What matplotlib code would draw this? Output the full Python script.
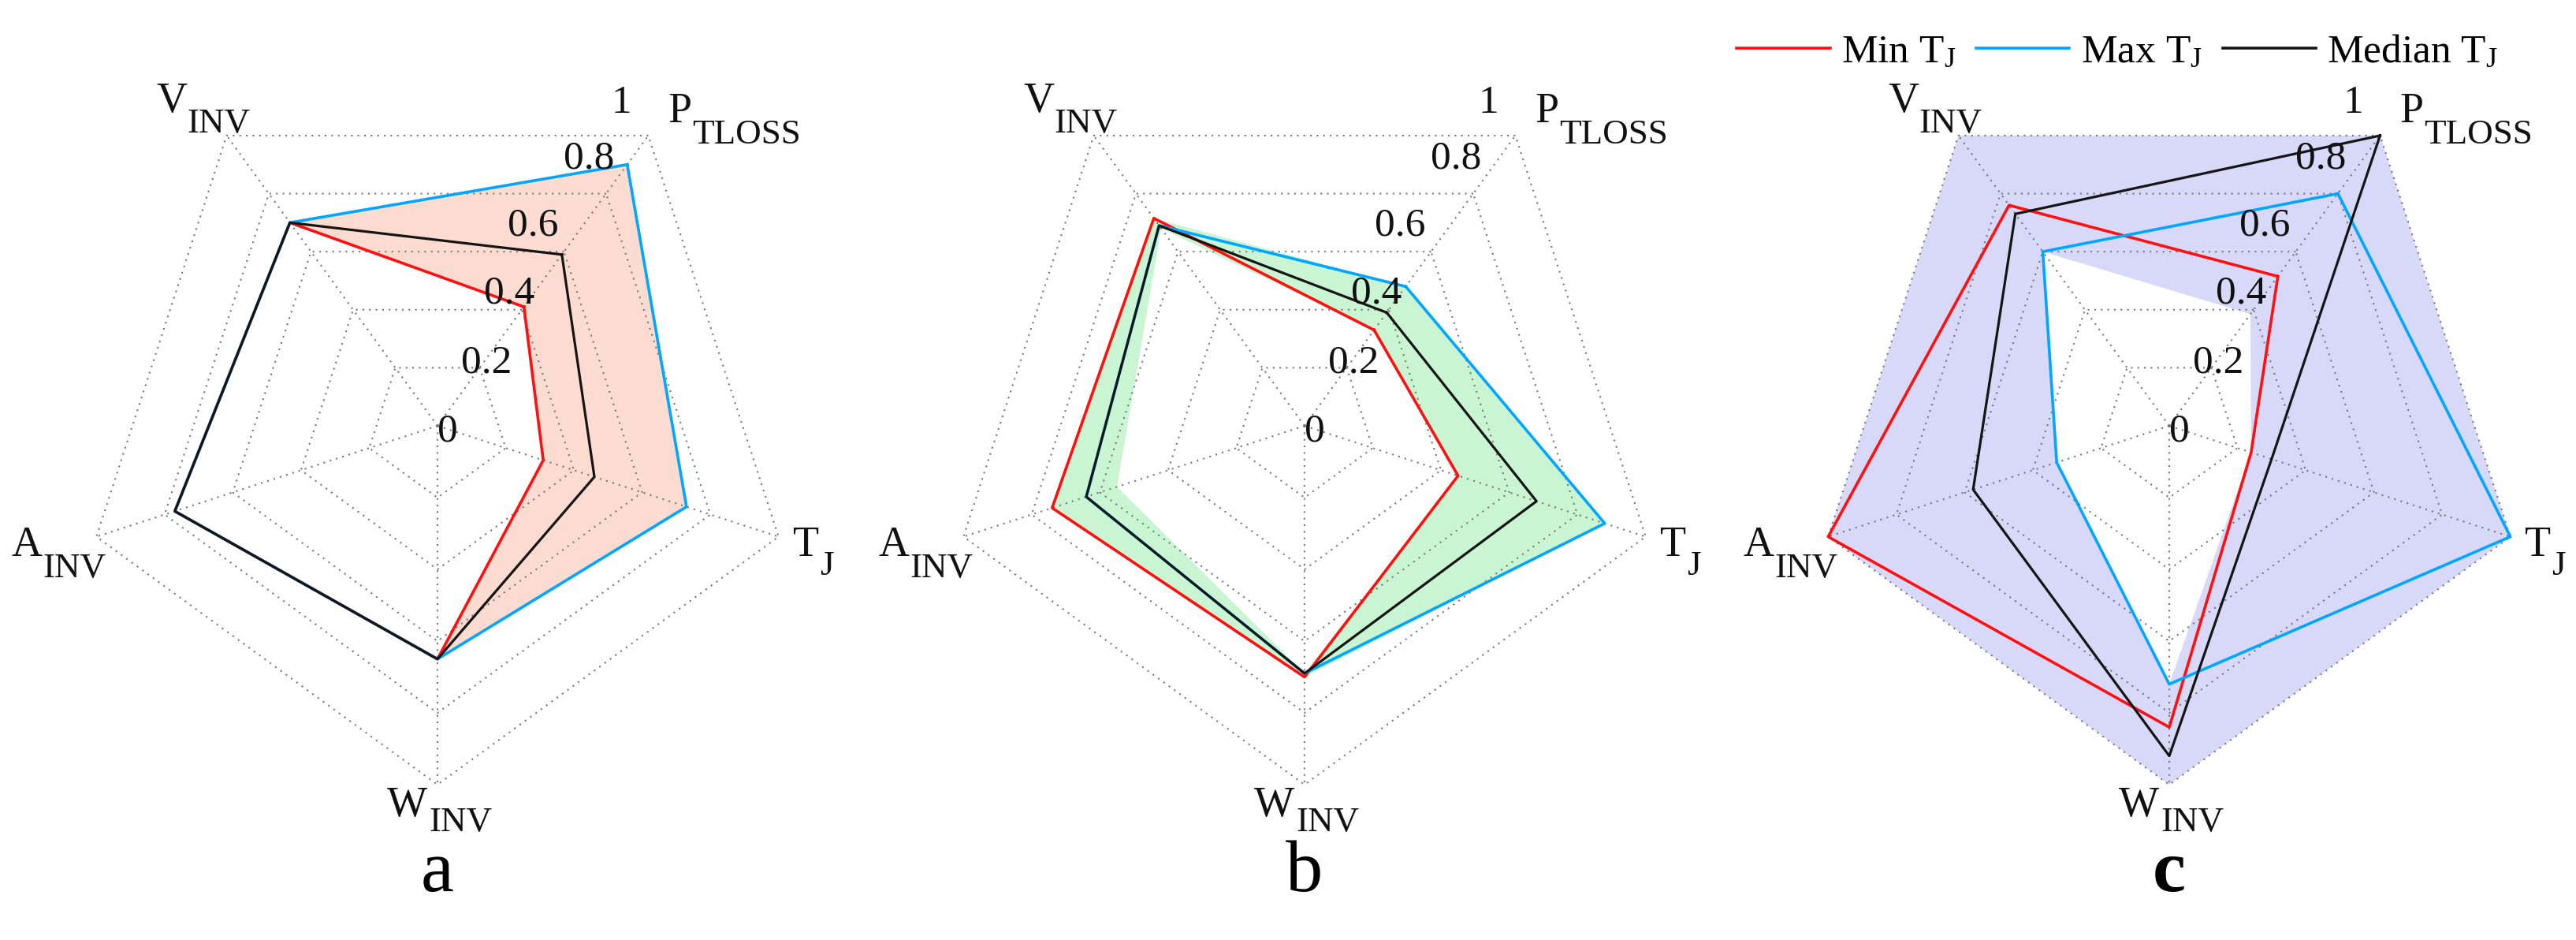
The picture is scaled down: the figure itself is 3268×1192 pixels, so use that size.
import numpy as np
import matplotlib
matplotlib.use("Agg")
import matplotlib.pyplot as plt
from matplotlib.path import Path
from matplotlib.patches import PathPatch
from matplotlib.lines import Line2D

plt.rcParams['font.family'] = ['Liberation Serif', 'DejaVu Serif']
plt.rcParams['mathtext.fontset'] = 'custom'
plt.rcParams['mathtext.rm'] = 'Liberation Serif'
plt.rcParams['mathtext.it'] = 'Liberation Serif:italic'

# ---------------- data ----------------
axis_main = ['P', 'V', 'A', 'W', 'T']
axis_sub = ['TLOSS', 'INV', 'INV', 'INV', 'J']
axis_angles_deg = [54, 126, 198, 270, 342]
ring_values = [0.2, 0.4, 0.6, 0.8, 1.0]
tick_values = [0, 0.2, 0.4, 0.6, 0.8, 1.0]
tick_labels = ['0', '0.2', '0.4', '0.6', '0.8', '1']

# order of values: P_TLOSS, V_INV, A_INV, W_INV, T_J
min_a = [0.41, 0.70, 0.77, 0.65, 0.31]
max_a = [0.90, 0.70, 0.77, 0.65, 0.73]
med_a = [0.59, 0.70, 0.77, 0.65, 0.46]
band_outer_a = [0.90, 0.70, 0.77, 0.65, 0.73]
band_inner_a = [0.41, 0.70, 0.77, 0.65, 0.31]

min_b = [0.33, 0.715, 0.74, 0.70, 0.45]
max_b = [0.48, 0.69, 0.64, 0.69, 0.88]
med_b = [0.39, 0.69, 0.64, 0.69, 0.68]
band_outer_b = [0.48, 0.715, 0.74, 0.70, 0.88]
band_inner_b = [0.33, 0.68, 0.55, 0.69, 0.45]

min_c = [0.515, 0.76, 1.00, 0.84, 0.24]
max_c = [0.80, 0.60, 0.33, 0.72, 1.00]
med_c = [1.00, 0.73, 0.575, 0.92, 0.30]
band_outer_c = [1.0, 1.0, 1.0, 1.0, 1.0]
band_inner_c = [0.385, 0.60, 0.33, 0.72, 0.24]

panel_letters = ['a', 'b', 'c']
legend_labels = [r'Min $\mathrm{T_J}$', r'Max $\mathrm{T_J}$', r'Median $\mathrm{T_J}$']

# ---------------- style / layout ----------------
W, H = 3268, 1192
DPI = 100
R = 455
CY = 540
centers_x = [555, 1655, 2752]
band_colors = ['#FCDCD0', '#C9F5D3', '#D8D8F8']
c_min, c_max, c_med = '#FF1010', '#00A6FF', '#151515'
grid_color = '#777777'

label_offsets = {  # (main dx, main dy, sub dx, sub dy) in pixels from outer vertex
    'P': (24.5, 17, 55.5, -10),
    'V': (-89.5, 30, -50.5, 4),
    'A': (-108, -24.4, -68, -51.4),
    'W': (-64, -40, -11, -59),
    'T': (18, -24.4, 52, -48),
}
tick_offsets = [(13, -19), (8.5, -6.2), (-15.5, 7.8), (-39.5, 20.7), (-21.5, 31.6), (-34.5, 28.5)]

fig = plt.figure(figsize=(W / DPI, H / DPI), dpi=DPI)

theta = np.deg2rad(axis_angles_deg)
theta_closed = np.append(theta, theta[0])

panels = [
    (min_a, max_a, med_a, band_outer_a, band_inner_a),
    (min_b, max_b, med_b, band_outer_b, band_inner_b),
    (min_c, max_c, med_c, band_outer_c, band_inner_c),
]


def closed(v):
    return np.append(v, v[0])


for i, (mn, mx, md, bo, bi) in enumerate(panels):
    cx = centers_x[i]
    rect = [(cx - R) / W, (H - CY - R) / H, 2 * R / W, 2 * R / H]
    ax = fig.add_axes(rect, projection='polar')
    ax.set_ylim(0, 1)
    ax.set_xticks([])
    ax.set_yticks([])
    ax.grid(False)
    ax.spines['polar'].set_visible(False)
    ax.patch.set_visible(False)

    # band (outer polygon with inner hole)
    outer = np.column_stack([theta_closed, closed(bo)])
    inner = np.column_stack([theta_closed[::-1], closed(bi)[::-1]])
    verts = np.vstack([outer, inner])
    codes = ([Path.MOVETO] + [Path.LINETO] * 4 + [Path.CLOSEPOLY]) * 2
    patch = PathPatch(Path(verts, codes), facecolor=band_colors[i], edgecolor='none',
                      transform=ax.transData, zorder=1, clip_on=False)
    ax.add_patch(patch)

    # grid pentagons and spokes
    for rv in ring_values:
        ax.plot(theta_closed, [rv] * 6, color=grid_color, lw=1.5,
                linestyle=(0, (1, 3)), zorder=2, clip_on=False)
    for t in theta:
        ax.plot([t, t], [0, 1], color=grid_color, lw=1.5,
                linestyle=(0, (1, 3)), zorder=2, clip_on=False)

    # series
    ax.plot(theta_closed, closed(mn), color=c_min, lw=2.6, zorder=3, clip_on=False)
    ax.plot(theta_closed, closed(mx), color=c_max, lw=2.6, zorder=4, clip_on=False)
    ax.plot(theta_closed, closed(md), color=c_med, lw=2.3, zorder=5, clip_on=False)

    # tick labels along P_TLOSS axis
    for tv, tl, (dx, dy) in zip(tick_values, tick_labels, tick_offsets):
        ax.annotate(tl, xy=(theta[0], tv), xytext=(dx, dy), textcoords='offset pixels',
                    ha='center', va='baseline', fontsize=37, color='#111111',
                    annotation_clip=False, zorder=6)

    # axis labels
    for t, m, s in zip(theta, axis_main, axis_sub):
        mdx, mdy, sdx, sdy = label_offsets[m]
        ax.annotate(m, xy=(t, 1.0), xytext=(mdx, mdy), textcoords='offset pixels',
                    ha='left', va='baseline', fontsize=39, color='#111111',
                    annotation_clip=False)
        ax.annotate(s, xy=(t, 1.0), xytext=(sdx, sdy), textcoords='offset pixels',
                    ha='left', va='baseline', fontsize=32.5, color='#111111',
                    annotation_clip=False)

    fig.text(cx / W, 1 - 1130 / H, panel_letters[i], ha='center', va='baseline',
             fontsize=68, color='black',
             fontweight='bold' if panel_letters[i] == 'c' else 'normal')

handles = [Line2D([], [], color=c_min, lw=2.6),
           Line2D([], [], color=c_max, lw=2.6),
           Line2D([], [], color=c_med, lw=2.6)]
fig.legend(handles, legend_labels, ncol=3, loc='center', bbox_to_anchor=(0.822, 0.944),
           frameon=False, fontsize=37, handlelength=2.3, handletextpad=0.28,
           columnspacing=0.5, borderpad=0, borderaxespad=0)

fig.savefig('out.png', dpi=DPI)
